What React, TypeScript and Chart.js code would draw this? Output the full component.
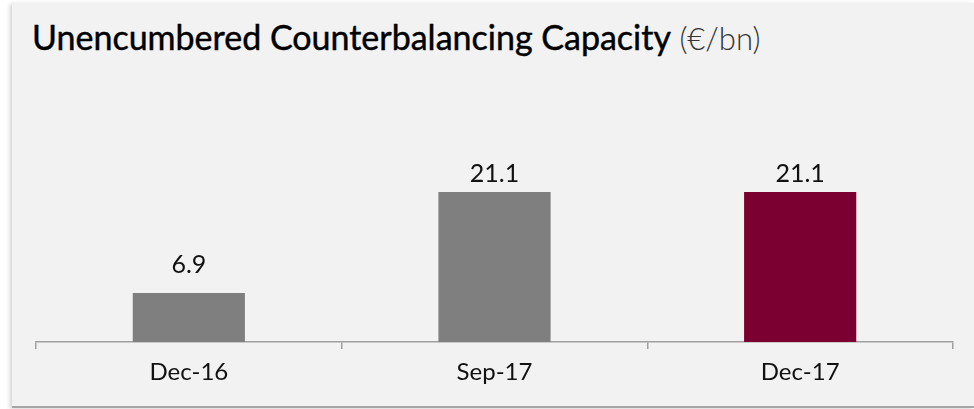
import React, { useEffect, useRef } from "react";
import { Chart, registerables } from "chart.js";

Chart.register(...registerables);

const categories = ["Dec-16", "Sep-17", "Dec-17"];
const values = [6.9, 21.1, 21.1];
const barColors = ["#7f7f7f", "#7f7f7f", "#7b0031"];
const titleMain = "Unencumbered Counterbalancing Capacity";
const titleUnit = "(€/bn)";

const labelGaps = [20, 10, 10];

const valueLabels = {
  id: "valueLabels",
  afterDatasetsDraw(chart: any) {
    const { ctx } = chart;
    const meta = chart.getDatasetMeta(0);
    ctx.save();
    ctx.font = "25px Lato";
    ctx.fillStyle = "#111";
    ctx.textAlign = "center";
    ctx.textBaseline = "alphabetic";
    meta.data.forEach((bar: any, i: number) => {
      ctx.fillText(values[i].toFixed(1), bar.x, bar.y - labelGaps[i]);
    });
    ctx.restore();
  },
};

export default function App() {
  const ref = useRef<HTMLCanvasElement | null>(null);
  useEffect(() => {
    document.body.style.margin = "0";
    const chart = new Chart(ref.current!, {
      type: "bar",
      data: {
        labels: categories,
        datasets: [
          {
            data: values,
            backgroundColor: barColors,
            barPercentage: 0.367,
            categoryPercentage: 1,
          },
        ],
      },
      options: {
        animation: false,
        responsive: false,
        maintainAspectRatio: false,
        layout: { padding: { left: 36, right: 21, top: 93, bottom: 0 } },
        plugins: { legend: { display: false }, tooltip: { enabled: false }, title: { display: false } },
        scales: {
          x: {
            offset: true,
            grid: {
              offset: true,
              drawOnChartArea: false,
              drawTicks: true,
              tickLength: 7,
              color: "#a0a0a0",
              lineWidth: 1.5,
            },
            border: { display: true, color: "#a0a0a0", width: 1.5 },
            ticks: { color: "#111", font: { family: "Lato", size: 24 }, padding: 9 },
            afterFit: (scale: any) => {
              scale.height = 67;
            },
          },
          y: { display: false, min: 0, max: 35 },
        },
      },
      plugins: [valueLabels],
    });
    return () => chart.destroy();
  }, []);

  return (
    <div style={{ position: "absolute", left: 0, top: 0, width: 974, height: 409, background: "#fff", overflow: "hidden" }}>
      <div
        style={{
          position: "absolute",
          left: 12,
          top: 3,
          width: 962,
          height: 403,
          background: "#f2f2f2",
          borderBottom: "2px solid #a6a6a6",
          boxShadow: "-2px 1px 4px rgba(0,0,0,0.18)",
        }}
      />
      <div
        style={{
          position: "absolute",
          left: 32,
          top: 20,
          fontFamily: "Lato",
          fontSize: 34,
          lineHeight: 1,
          whiteSpace: "nowrap",
          color: "#000",
        }}
      >
        <span style={{ fontWeight: 400, WebkitTextStroke: "0.45px #000" } as any}>{titleMain}</span>
        <span style={{ fontWeight: 300, color: "#333", fontSize: 31 }}> {titleUnit}</span>
      </div>
      <canvas ref={ref} width={974} height={409} style={{ position: "absolute", left: 0, top: 0, width: 974, height: 409 }} />
    </div>
  );
}
